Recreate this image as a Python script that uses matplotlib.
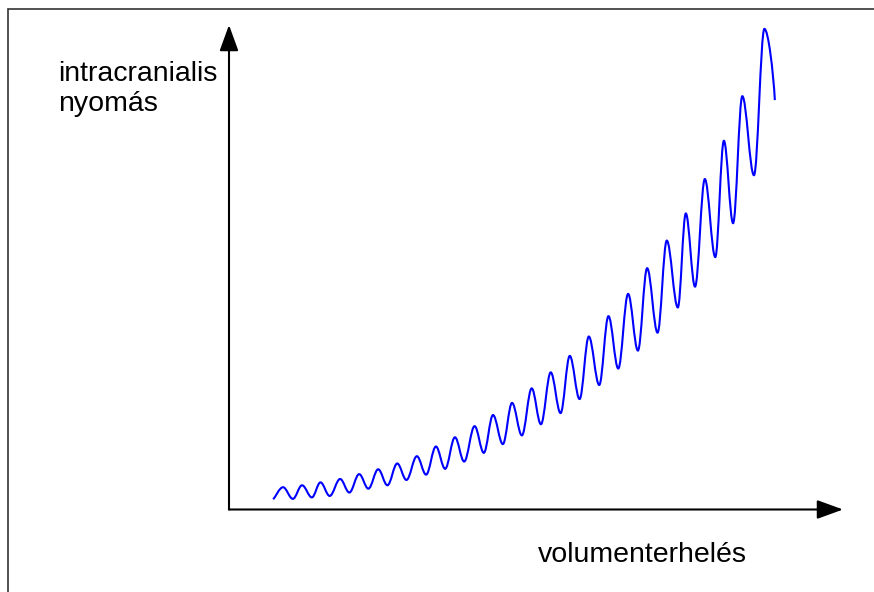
import matplotlib
matplotlib.use("Agg")
import matplotlib.pyplot as plt
from matplotlib.path import Path
from matplotlib.patches import PathPatch, Rectangle

# volume load (x) and intracranial pressure (y) at the turning points of the curve,
# in arbitrary units: 0..100 along each axis arrow
vol_points = [7.2, 8.8, 10.4, 11.9, 13.5, 14.9, 16.4, 18.1, 19.6, 21.2, 22.7, 24.3, 25.8,
              27.4, 28.9, 30.6, 32.1, 33.7, 35.2, 36.8, 38.3, 40.0, 41.5, 43.0, 44.6,
              46.1, 47.7, 49.3, 50.8, 52.4, 54.0, 55.5, 57.1, 58.6, 60.3, 61.8, 63.4,
              65.0, 66.6, 68.1, 69.8, 71.3, 73.1, 74.4, 75.9, 77.5, 79.2, 80.6, 82.1,
              83.6, 85.5, 87.2, 88.9]
pressure_points = [2.1, 4.6, 2.2, 5.0, 2.5, 5.6, 2.8, 6.3, 3.5, 7.3, 4.3, 8.3, 5.0,
                   9.5, 6.1, 11.0, 7.2, 13.0, 8.4, 14.9, 9.9, 17.2, 11.7, 19.5, 13.5,
                   22.0, 15.3, 25.0, 17.6, 28.3, 19.9, 31.7, 22.8, 35.7, 25.7, 39.9, 29.1,
                   44.5, 32.8, 49.8, 36.5, 55.5, 41.7, 61.1, 46.0, 68.2, 52.1, 76.1, 59.1,
                   85.3, 69.0, 99.2, 84.5]

x_label = "volumenterhelés"
y_label = ["intracranialis", "nyomás"]

fig = plt.figure(figsize=(8.74, 5.92), dpi=100)
ax = fig.add_axes([229 / 874, 1 - 509.5 / 592, 614 / 874, 484.5 / 592])
ax.set_xlim(0, 100)
ax.set_ylim(0, 100)
ax.axis("off")

# outer frame (only left and top edges fall inside the picture)
fig.add_artist(Rectangle((8 / 874, -0.1), 1.0, 1 - 9 / 592 + 0.1, transform=fig.transFigure,
                         fill=False, edgecolor="#333333", lw=1.2))

# smooth wave through the turning points, horizontal tangents at each extreme
verts = [(vol_points[0], pressure_points[0])]
codes = [Path.MOVETO]
n = len(vol_points)
for i in range(1, n):
    x0, y0 = vol_points[i - 1], pressure_points[i - 1]
    x1, y1 = vol_points[i], pressure_points[i]
    dx = x1 - x0
    if i == 1:
        c1 = (x0 + dx * 0.2, y0 + (y1 - y0) * 0.15)
    else:
        c1 = (x0 + dx * 0.364, y0)
    if i == n - 1:
        c2 = (x1 - dx * 0.15, y1 + (y0 - y1) * 0.4)
    else:
        c2 = (x1 - dx * 0.364, y1)
    verts += [c1, c2, (x1, y1)]
    codes += [Path.CURVE4] * 3
ax.add_patch(PathPatch(Path(verts, codes), fill=False, edgecolor="#0000ff", lw=1.5,
                       clip_on=False))

# axes arrows
arrow = dict(arrowstyle="-|>,head_length=0.55,head_width=0.2", mutation_scale=29,
             color="black", lw=1.5, shrinkA=0, shrinkB=0)
ax.annotate("", xy=(100, 0), xytext=(0, 0), arrowprops=arrow, annotation_clip=False)
ax.annotate("", xy=(0, 100), xytext=(0, 0), arrowprops=arrow, annotation_clip=False)

font = dict(family=["Liberation Sans", "DejaVu Sans"], size=20.5, color="black")
ax.text(-27.8, 88.4, y_label[0], ha="left", va="baseline", **font)
ax.text(-27.8, 82.3, y_label[1], ha="left", va="baseline", **font)
ax.text(50.3, -10.8, x_label, ha="left", va="baseline", **font)

fig.savefig("out.png", dpi=100)
